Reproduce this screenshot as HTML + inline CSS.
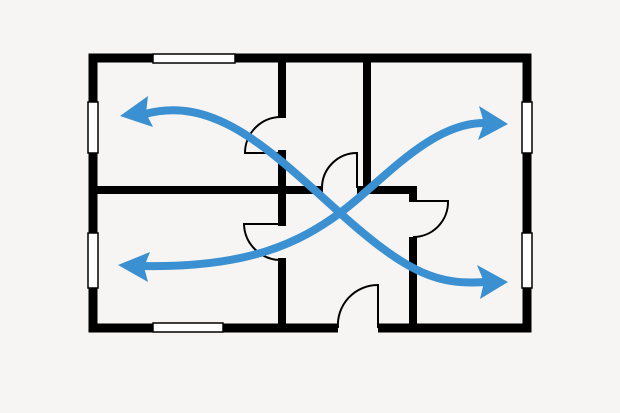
<!DOCTYPE html>
<html><head><meta charset="utf-8"><style>
html,body{margin:0;padding:0;background:#f6f5f3;}
svg{display:block}
</style></head><body>
<svg width="620" height="413" viewBox="0 0 620 413" xmlns="http://www.w3.org/2000/svg">
<rect width="620" height="413" fill="#f6f5f3"/>
<g stroke="#000" stroke-width="9" fill="none" stroke-linejoin="miter">
  <path d="M338 328 H93 V58 H527 V328 H378"/>
</g>
<g stroke="#000" stroke-width="8" fill="none" stroke-linecap="butt">
  <path d="M282 58 V118"/>
  <path d="M282 150 V226"/>
  <path d="M282 258 V328"/>
  <path d="M367 58 V190"/>
  <path d="M93 190 H323"/>
  <path d="M357 190 H413 V202"/>
  <path d="M413 237 V328"/>
</g>
<g fill="#fff" stroke="#000" stroke-width="1.5">
  <rect x="153" y="54" width="82" height="9"/>
  <rect x="153" y="323" width="70" height="9"/>
  <rect x="88" y="102" width="10" height="51"/>
  <rect x="88" y="233" width="10" height="55"/>
  <rect x="522" y="102" width="10" height="51"/>
  <rect x="522" y="233" width="10" height="55"/>
</g>
<g stroke="#000" stroke-width="2" fill="none">
  <path d="M282 117 A36 36 0 0 0 245 153 H282"/>
  <path d="M282 224 H244 A37 37 0 0 0 282 260"/>
  <path d="M322 188 A35 35 0 0 1 357 153 V188"/>
  <path d="M413 201 H448 A35 35 0 0 1 413 237"/>
  <path d="M338 328 A40 40 0 0 1 378 285 V328"/>
</g>
<g stroke="#3a90d1" stroke-width="8" fill="none" stroke-linecap="round">
  <path d="M145 114 C215 95 270 150 340 213 S 440 285 485 282"/>
  <path d="M143 266 C250 268 300 242 340 213 S 430 122 485 123"/>
</g>
<g fill="#3a90d1">
  <path d="M120 116 L148 96 L146 113 L153 127 Z"/>
  <path d="M118 265 L150 252 L144 267 L148 282 Z"/>
  <path d="M508 124 L479 106 L484 123 L478 140 Z"/>
  <path d="M508 282 L477 265 L484 282 L480 299 Z"/>
</g>
</svg>
</body></html>
